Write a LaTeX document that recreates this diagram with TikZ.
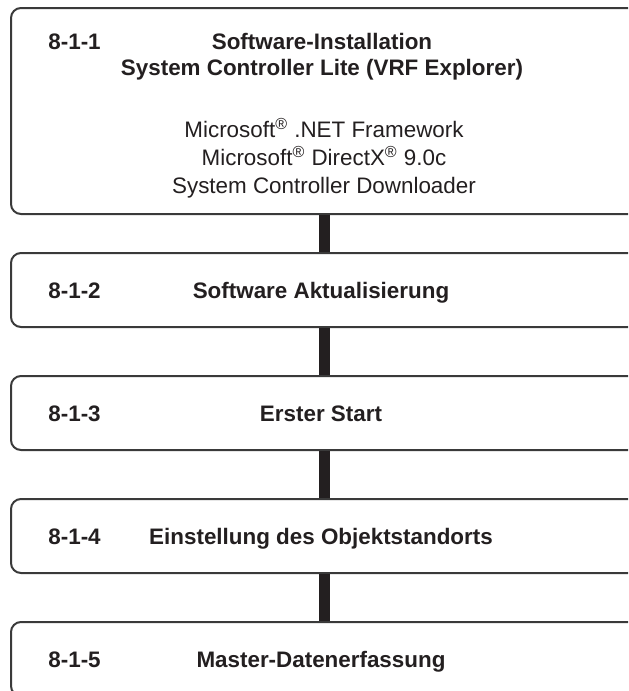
\documentclass[tikz,border=0pt]{standalone}
\usepackage{fontspec}
\setmainfont{Liberation Sans}
\usetikzlibrary{positioning}
\definecolor{framegray}{HTML}{3A3A3A}
\definecolor{inkblack}{HTML}{231F20}

\begin{document}
\begin{tikzpicture}[
    x=0.5pt, y=-0.5pt,
    stepbox/.style={draw=framegray, line width=1pt, rounded corners=5pt, minimum width=313.5pt, minimum height=37pt, fill=white},
    steplabel/.style={anchor=base west, inner sep=0pt, font=\fontsize{11.2}{13}\selectfont\bfseries, text=inkblack},
    steptitle/.style={anchor=base, inner sep=0pt, font=\fontsize{11.2}{13}\selectfont\bfseries, text=inkblack},
    steptext/.style={anchor=base, inner sep=0pt, font=\fontsize{11.2}{14}\selectfont, text=inkblack},
    link/.style={draw=inkblack, line width=5.5pt}
]
    \useasboundingbox (0,0) rectangle (628,691);
    \clip (0,0) rectangle (628,691);

    % ================= BOXES =================
    \node[stepbox, minimum height=103pt] (B1) at (324.5,111) {};
    \node[stepbox] (B2) at (324.5,290) {};
    \node[stepbox] (B3) at (324.5,413) {};
    \node[stepbox] (B4) at (324.5,536) {};
    \node[stepbox] (B5) at (324.5,659) {};

    % ================= LINKS =================
    \draw[link] (B1.south) -- (B2.north);
    \draw[link] (B2.south) -- (B3.north);
    \draw[link] (B3.south) -- (B4.north);
    \draw[link] (B4.south) -- (B5.north);

    % ================= 8-1-1 =================
    \node[steplabel] (N1) at (48,49) {8-1-1};
    \node[steptitle] (T1) at (322,49) {Software-Installation};
    \node[steptitle] (T1b) at (322,75) {System Controller Lite (VRF Explorer)};
    \node[steptext] (S1) at (324,137) {Microsoft\textsuperscript{\footnotesize ®} .NET Framework};
    \node[steptext] (S2) at (324,165) {Microsoft\textsuperscript{\footnotesize ®} DirectX\textsuperscript{\footnotesize ®} 9.0c};
    \node[steptext] (S3) at (324,193) {System Controller Downloader};

    % ================= 8-1-2 .. 8-1-5 =================
    \node[steplabel] (N2) at (48,298) {8-1-2};
    \node[steptitle] (T2) at (321,298) {Software Aktualisierung};
    \node[steplabel] (N3) at (48,421) {8-1-3};
    \node[steptitle] (T3) at (321,421) {Erster Start};
    \node[steplabel] (N4) at (48,544) {8-1-4};
    \node[steptitle] (T4) at (321,544) {Einstellung des Objektstandorts};
    \node[steplabel] (N5) at (48,667) {8-1-5};
    \node[steptitle] (T5) at (321,667) {Master-Datenerfassung};

\end{tikzpicture}
\end{document}
